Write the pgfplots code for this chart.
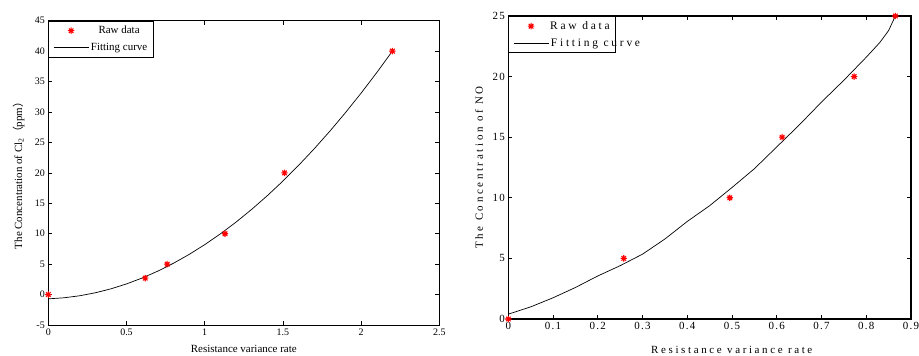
\documentclass[border=0pt]{standalone}
\usepackage{pgfplots}
\pgfplotsset{compat=1.18}
\usepackage{fontspec}
\setmainfont{Liberation Serif}
\newfontfamily\spaced[LetterSpace=24]{Liberation Serif}
\newfontfamily\spacedt[LetterSpace=12]{Liberation Serif}
\newfontfamily\cjk{Noto Sans CJK SC}
\definecolor{rawred}{RGB}{255,0,0}
\pgfdeclareplotmark{mstar}{%
  \pgfpathmoveto{\pgfqpoint{-\pgfplotmarksize}{0pt}}%
  \pgfpathlineto{\pgfqpoint{\pgfplotmarksize}{0pt}}%
  \pgfpathmoveto{\pgfqpoint{0pt}{-\pgfplotmarksize}}%
  \pgfpathlineto{\pgfqpoint{0pt}{\pgfplotmarksize}}%
  \pgfpathmoveto{\pgfqpoint{-0.707\pgfplotmarksize}{-0.707\pgfplotmarksize}}%
  \pgfpathlineto{\pgfqpoint{0.707\pgfplotmarksize}{0.707\pgfplotmarksize}}%
  \pgfpathmoveto{\pgfqpoint{-0.707\pgfplotmarksize}{0.707\pgfplotmarksize}}%
  \pgfpathlineto{\pgfqpoint{0.707\pgfplotmarksize}{-0.707\pgfplotmarksize}}%
  \pgfusepathqstroke}
\begin{document}
\begin{tikzpicture}
\path[use as bounding box] (0,0) rectangle (919bp,356bp);
\pgfplotsset{
  myax/.style={
    anchor=south west, scale only axis,
    axis line style={line width=0.9bp},
    tick style={line width=0.6bp, black},
    major tick length=4bp,
    tick align=inside,
    scaled ticks=false,
    /pgf/number format/assume math mode=true,
    /pgf/number format/fixed,
    legend cell align=center,
    legend style={at={(0,1)}, anchor=north west, draw=black, line width=0.9bp,
      inner xsep=4.5bp, inner ysep=3bp, row sep=4bp, fill=white},
  },
  rawimg/.style={legend image code/.code={\draw[mark repeat=2,mark phase=2,##1] plot coordinates {(0bp,0bp)(17.5bp,0bp)(35bp,0bp)};}},
  lineimg/.style={legend image code/.code={\draw[##1] (0bp,0bp) -- (35bp,0bp);}},
}
% ---------- left chart ----------
\begin{axis}[myax,
  at={(48.3bp,31bp)}, width=391bp, height=304.3bp,
  xmin=0, xmax=2.5, ymin=-5, ymax=45,
  xtick={0,0.5,1,1.5,2,2.5},
  ytick={-5,0,5,10,15,20,25,30,35,40,45},
  ticklabel style={font=\fontsize{10}{12}\selectfont},
  label style={font=\fontsize{11}{13}\selectfont},
  xlabel={Resistance variance rate},
  ylabel={The Concentration of Cl\textsubscript{2}{\cjk （}ppm{\cjk ）}},
  x label style={at={(axis description cs:0.5,0)}, anchor=base, yshift=-27bp},
  y label style={at={(axis description cs:-0.067,0.5)}, anchor=base},
  legend style={font=\fontsize{11}{13}\selectfont},
]
\addplot[only marks, mark=mstar, mark size=3.2bp, rawred, line width=1.1bp, rawimg]
  coordinates {(0,0) (0.62,2.7) (0.76,5) (1.13,10) (1.51,20) (2.2,40)};
\addlegendentry{Raw data}
\addplot[black, line width=0.7bp, lineimg]
  coordinates {(0,-0.70) (0.1,-0.53) (0.2,-0.20) (0.3,0.29) (0.4,0.94) (0.5,1.75)
   (0.6,2.72) (0.7,3.85) (0.8,5.14) (0.9,6.59) (1.0,8.20) (1.1,9.97) (1.2,11.90)
   (1.3,13.99) (1.4,16.24) (1.5,18.65) (1.6,21.22) (1.7,23.95) (1.8,26.84)
   (1.9,29.89) (2.0,33.10) (2.1,36.47) (2.2,40.00)};
\addlegendentry{Fitting curve}
\end{axis}
% ---------- right chart ----------
\begin{axis}[myax,
  at={(508.3bp,37bp)}, width=402.7bp, height=303bp,
  axis line style={line width=1.2bp},
  xmin=0, xmax=0.9, ymin=0, ymax=25,
  xtick={0,0.1,0.2,0.3,0.4,0.5,0.6,0.7,0.8,0.9},
  ytick={0,5,10,15,20,25},
  ticklabel style={font=\fontsize{11}{13}\spacedt},
  label style={font=\fontsize{11}{13}\spaced},
  xlabel={Resistance variance rate},
  ylabel={The Concentration of NO},
  x label style={at={(axis description cs:0.555,0)}, anchor=base, yshift=-34bp},
  y label style={at={(axis description cs:-0.063,0.5)}, anchor=base},
  legend style={font=\fontsize{11.5}{13}\spaced},
]
\addplot[only marks, mark=mstar, mark size=3.2bp, rawred, line width=1.1bp, rawimg]
  coordinates {(0,0) (0.258,5) (0.495,10) (0.612,15) (0.773,20) (0.865,25)};
\addlegendentry{\makebox[58bp][c]{Raw data}}
\addplot[black, line width=0.7bp, lineimg]
  coordinates {(0,0.40) (0.05,1.00) (0.1,1.75) (0.15,2.60) (0.2,3.55) (0.25,4.40)
   (0.3,5.35) (0.35,6.60) (0.4,8.05) (0.45,9.35) (0.5,10.85) (0.55,12.40)
   (0.6,14.20) (0.65,16.00) (0.7,17.90) (0.75,19.70) (0.8,21.60) (0.83,22.80)
   (0.85,23.80) (0.865,25.00)};
\addlegendentry{\makebox[58bp][l]{Fitting curve}}
\end{axis}
\end{tikzpicture}
\end{document}
